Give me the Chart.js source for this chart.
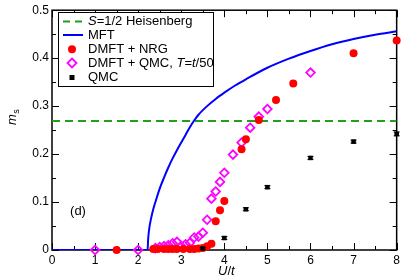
<!DOCTYPE html>
<html>
<head>
<meta charset="utf-8">
<script src="https://cdn.jsdelivr.net/npm/chart.js@4/dist/chart.umd.min.js"></script>
<style>
html,body{margin:0;padding:0;background:#fff;}
canvas{display:block;}
</style>
</head>
<body>
<canvas id="c" width="403" height="277"></canvas>
<script>
// ---- data ----
const heisenbergValue = 0.269;

const uMFT = [0, 2.22, 2.23, 2.25, 2.3, 2.35, 2.4, 2.5, 2.6, 2.7, 2.8, 2.9, 3.0, 3.1, 3.2, 3.3, 3.4, 3.6, 3.8, 4.0, 4.25, 4.5, 5.0, 5.5, 6.0, 6.5, 7.0, 7.5, 8.0];
const mMFT = [0, 0, 0.02, 0.04, 0.066, 0.085, 0.1, 0.128, 0.151, 0.172, 0.191, 0.208, 0.224, 0.24, 0.256, 0.27, 0.282, 0.3, 0.315, 0.328, 0.343, 0.356, 0.38, 0.399, 0.415, 0.429, 0.44, 0.449, 0.456];

const uNRG = [1.5, 2.35, 2.45, 2.6, 2.7, 2.8, 2.9, 3.05, 3.2, 3.3, 3.4, 3.5, 3.6, 3.7, 3.8, 3.9, 4.0, 4.4, 4.5, 4.8, 5.2, 5.6, 7.0, 8.0];
const mNRG = [0, 0.002, 0.002, 0.002, 0.002, 0.002, 0.002, 0.002, 0.002, 0.002, 0.003, 0.004, 0.008, 0.013, 0.06, 0.083, 0.102, 0.21, 0.231, 0.271, 0.313, 0.347, 0.41, 0.437];

const uDQMC = [1, 2, 2.4, 2.5, 2.6, 2.7, 2.8, 2.9, 3.0, 3.1, 3.2, 3.3, 3.4, 3.5, 3.6, 3.7, 3.8, 3.9, 4.0, 4.2, 4.4, 4.6, 4.8, 5.0, 6.0];
const mDQMC = [0, 0, 0.004, 0.006, 0.008, 0.01, 0.014, 0.017, 0.008, 0.012, 0.015, 0.026, 0.028, 0.036, 0.063, 0.107, 0.122, 0.142, 0.161, 0.199, 0.224, 0.255, 0.278, 0.294, 0.37];

const uQMC = [3.5, 4, 4.5, 5, 6, 7, 8];
const mQMC = [0.003, 0.025, 0.085, 0.131, 0.192, 0.226, 0.242];
const errQMC = [0.002, 0.003, 0.003, 0.003, 0.003, 0.003, 0.004];

const xTicks = [0, 1, 2, 3, 4, 5, 6, 7, 8];
const yTicks = [0, 0.1, 0.2, 0.3, 0.4, 0.5];

// ---- styling ----
const FONT = "'Liberation Sans', Arial, Helvetica, sans-serif";
const GREEN = '#1fa01f';
const BLUE = '#0000ff';
const RED = '#ff0000';
const MAGENTA = '#ff00ff';

function pts(xs, ys){ return xs.map((x,i)=>({x:x, y:ys[i]})); }

const framePlugin = {
  id: 'frame',
  beforeDatasetsDraw(chart){
    const {ctx, chartArea:a, scales:{x, y}} = chart;
    ctx.save();
    ctx.strokeStyle = '#000';
    ctx.lineWidth = 1;
    for (let v = 0; v <= 8.0001; v += 0.5){
      const px = Math.round(x.getPixelForValue(v)) + 0.5;
      const len = (Math.abs(v - Math.round(v)) < 1e-6) ? 7 : 4;
      ctx.beginPath();
      ctx.moveTo(px, a.bottom); ctx.lineTo(px, a.bottom - len);
      ctx.moveTo(px, a.top); ctx.lineTo(px, a.top + len);
      ctx.stroke();
    }
    for (let k = 0; k <= 10; k++){
      const v = k * 0.05;
      const py = Math.round(y.getPixelForValue(v)) + 0.5;
      const len = (k % 2 === 0) ? 7 : 4;
      ctx.beginPath();
      ctx.moveTo(a.left, py); ctx.lineTo(a.left + len, py);
      ctx.moveTo(a.right, py); ctx.lineTo(a.right - len, py);
      ctx.stroke();
    }
    ctx.lineWidth = 1.5;
    ctx.strokeRect(a.left, a.top, a.right - a.left, a.bottom - a.top);
    ctx.restore();
  },
  afterDatasetsDraw(chart){
    const {ctx, chartArea:a, scales:{x, y}} = chart;
    ctx.save();
    ctx.strokeStyle = '#000';
    ctx.lineWidth = 1;
    uQMC.forEach((u,i)=>{
      const px = x.getPixelForValue(u);
      const p1 = y.getPixelForValue(mQMC[i] - errQMC[i]);
      const p2 = y.getPixelForValue(mQMC[i] + errQMC[i]);
      ctx.beginPath();
      ctx.moveTo(px, p1); ctx.lineTo(px, p2);
      ctx.moveTo(px - 3, p1); ctx.lineTo(px + 3, p1);
      ctx.moveTo(px - 3, p2); ctx.lineTo(px + 3, p2);
      ctx.stroke();
    });

    // legend
    const L = 58, T = 12, R = 213, B = 86;
    ctx.fillStyle = '#fff';
    ctx.fillRect(L, T, R - L, B - T);
    ctx.lineWidth = 1;
    ctx.strokeStyle = '#000';
    ctx.strokeRect(L + 0.5, T + 0.5, R - L, B - T);
    const rows = [21.5, 35, 49.3, 63, 77.5];
    const tx = 88, sx = 72;
    ctx.strokeStyle = GREEN; ctx.lineWidth = 2; ctx.setLineDash([7,5]);
    ctx.beginPath(); ctx.moveTo(63, rows[0]); ctx.lineTo(84, rows[0]); ctx.stroke();
    ctx.setLineDash([]);
    ctx.strokeStyle = BLUE; ctx.lineWidth = 2;
    ctx.beginPath(); ctx.moveTo(63, rows[1]); ctx.lineTo(83, rows[1]); ctx.stroke();
    ctx.fillStyle = RED;
    ctx.beginPath(); ctx.arc(sx, rows[2], 4, 0, Math.PI*2); ctx.fill();
    ctx.strokeStyle = MAGENTA; ctx.lineWidth = 1.8;
    ctx.beginPath();
    ctx.moveTo(sx, rows[3]-4.5); ctx.lineTo(sx+4.5, rows[3]); ctx.lineTo(sx, rows[3]+4.5); ctx.lineTo(sx-4.5, rows[3]); ctx.closePath();
    ctx.stroke();
    ctx.fillStyle = '#000';
    ctx.fillRect(sx-2.5, rows[4]-2.5, 5, 5);

    function runs(parts, x0, yb){
      let xx = x0;
      parts.forEach(p=>{
        ctx.font = (p[1] ? 'italic ' : '') + '13px ' + FONT;
        ctx.fillText(p[0], xx, yb);
        xx += ctx.measureText(p[0]).width;
      });
      return xx;
    }
    ctx.fillStyle = '#000';
    ctx.textBaseline = 'middle';
    ctx.textAlign = 'left';
    runs([['S',1],['=1/2 Heisenberg',0]], tx, rows[0]);
    runs([['MFT',0]], tx, rows[1]);
    runs([['DMFT + NRG',0]], tx, rows[2]);
    runs([['DMFT + QMC, ',0],['T',1],['=',0],['t',1],['/50',0]], tx, rows[3]);
    runs([['QMC',0]], tx, rows[4]);

    ctx.font = '13px ' + FONT;
    ctx.textAlign = 'center';
    ctx.fillText('(d)', 78, 211);

    ctx.textAlign = 'left';
    ctx.textBaseline = 'alphabetic';
    ctx.font = 'italic 13px ' + FONT;
    const wU = ctx.measureText('U').width, wt = ctx.measureText('t').width;
    ctx.font = '13px ' + FONT;
    const ws = ctx.measureText('/').width;
    const total = wU + ws + wt;
    let xx = (a.left + a.right)/2 + 2 - total/2;
    runs([['U',1],['/',0],['t',1]], xx, 275);

    ctx.save();
    ctx.translate(15.5, 119);
    ctx.rotate(-Math.PI/2);
    ctx.font = 'italic 13px ' + FONT;
    ctx.fillText('m', -6, 0);
    const wm = ctx.measureText('m').width;
    ctx.font = '9px ' + FONT;
    ctx.fillText('s', -6 + wm + 0.5, 3);
    ctx.restore();

    ctx.restore();
  }
};

new Chart(document.getElementById('c'), {
  type: 'scatter',
  data: {
    datasets: [
      { label: 'QMC', data: pts(uQMC, mQMC), pointStyle: 'rect', pointRadius: 3.2,
        backgroundColor: '#000', borderColor: '#000', borderWidth: 0, showLine: false, clip: false, order: 1 },
      { label: 'DMFT + NRG', data: pts(uNRG, mNRG), pointStyle: 'circle', pointRadius: 4,
        backgroundColor: RED, borderColor: RED, borderWidth: 0, showLine: false, clip: false, order: 2 },
      { label: 'DMFT + QMC', data: pts(uDQMC, mDQMC), pointStyle: 'rectRot', pointRadius: 4.3,
        backgroundColor: 'rgba(255,255,255,0)', borderColor: MAGENTA, borderWidth: 1.8, showLine: false, clip: false, order: 3 },
      { label: 'MFT', data: pts(uMFT, mMFT), showLine: true, pointRadius: 0, borderColor: BLUE,
        borderWidth: 2, cubicInterpolationMode: 'monotone', fill: false, order: 4 },
      { label: 'S=1/2 Heisenberg', data: [{x:0, y:heisenbergValue},{x:8, y:heisenbergValue}], showLine: true,
        pointRadius: 0, borderColor: GREEN, borderWidth: 2, borderDash: [8,5], fill: false, order: 5 }
    ]
  },
  options: {
    responsive: false,
    devicePixelRatio: 1,
    animation: false,
    events: [],
    layout: { padding: { top: 5, right: 6, left: 0, bottom: 0 } },
    plugins: { legend: { display: false }, tooltip: { enabled: false } },
    scales: {
      x: {
        type: 'linear', min: 0, max: 8,
        afterBuildTicks(s){ s.ticks = xTicks.map(v=>({value:v})); },
        ticks: { font: { size: 12, family: FONT }, color: '#000', padding: 3, maxRotation: 0, autoSkip: false,
          callback: v => String(v) },
        grid: { display: false, drawTicks: false },
        border: { display: false },
        afterFit(s){ s.height = 27; }
      },
      y: {
        type: 'linear', min: 0, max: 0.5,
        afterBuildTicks(s){ s.ticks = yTicks.map(v=>({value:v})); },
        ticks: { font: { size: 12, family: FONT }, color: '#000', padding: 3, autoSkip: false,
          callback: v => (v === 0 ? '0' : Number(v).toFixed(1)) },
        grid: { display: false, drawTicks: false },
        border: { display: false },
        afterFit(s){ s.width = 52; }
      }
    }
  },
  plugins: [framePlugin]
});
</script>
</body>
</html>
